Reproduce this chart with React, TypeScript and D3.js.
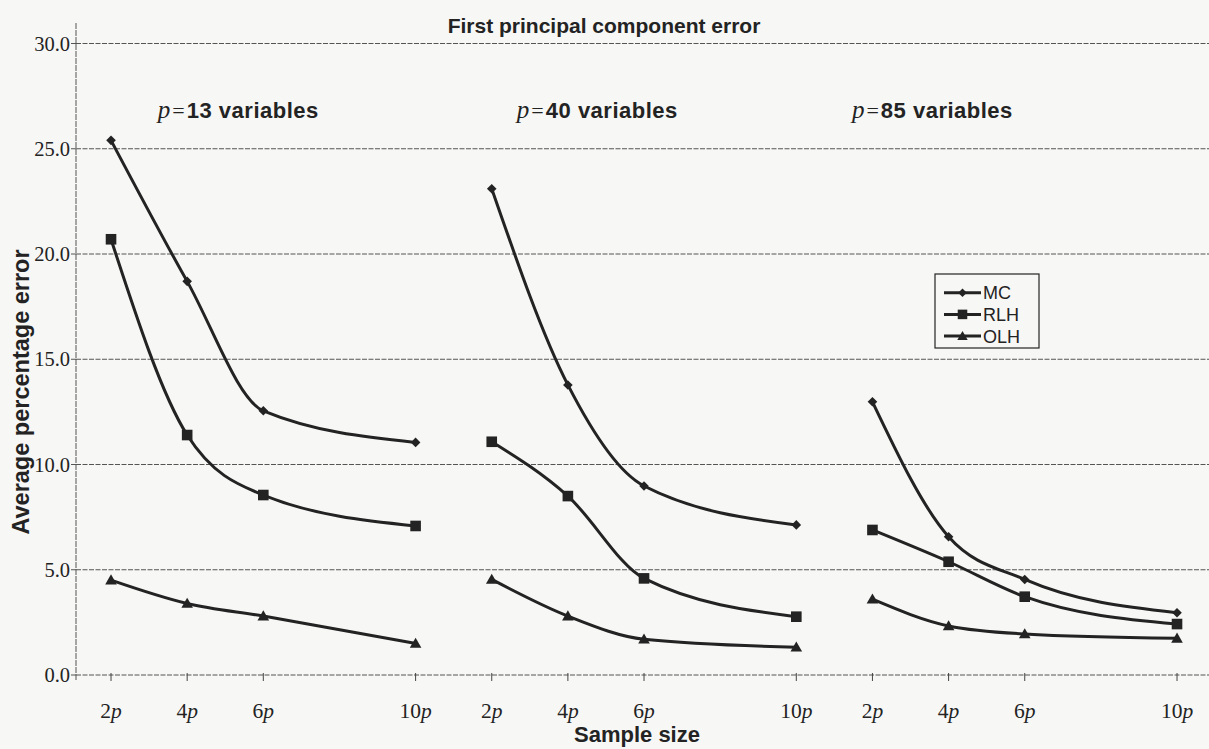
import React from "react";
import * as d3 from "d3";

// ---- data ----
const PANEL_P = ["13", "40", "85"];
const MULTIPLES = [2, 4, 6, 10];
const MULT_LABELS = ["2", "4", "6", "10"];
const MC = [
  [25.4, 18.7, 12.55, 11.05],
  [23.1, 13.78, 8.98, 7.13],
  [12.98, 6.57, 4.54, 2.96],
];
const RLH = [
  [20.7, 11.4, 8.55, 7.08],
  [11.08, 8.5, 4.59, 2.77],
  [6.89, 5.38, 3.72, 2.42],
];
const OLH = [
  [4.51, 3.4, 2.8, 1.5],
  [4.54, 2.8, 1.7, 1.32],
  [3.6, 2.33, 1.95, 1.74],
];
const Y_TICKS = [0, 5, 10, 15, 20, 25, 30];
const SERIES_NAMES = ["MC", "RLH", "OLH"];
// panel label anchors in data units (x in sample-size units, y in error units)
const PANEL_LABEL_X = [3.23, 12.66, 21.46];
const PANEL_LABEL_Y = 26.45;

const W = 1209;
const H = 749;
const INK = "#232323";
const BG = "#f7f7f5";
const SANS = "'Liberation Sans', Arial, Helvetica, sans-serif";
const SERIF = "'Liberation Serif', 'Times New Roman', serif";

const x = d3.scaleLinear().domain([1.08, 30.84]).range([76, 1209]);
const y = d3.scaleLinear().domain([0, 30]).range([675, 43.5]);

function Marker({ kind, cx, cy, s = 1 }: { kind: string; cx: number; cy: number; s?: number }) {
  if (kind === "MC") {
    const r = 4.8 * s;
    return <path d={`M${cx},${cy - r}L${cx + r},${cy}L${cx},${cy + r}L${cx - r},${cy}Z`} fill={INK} />;
  }
  if (kind === "RLH") {
    const h = 5.3 * s;
    return <rect x={cx - h} y={cy - h} width={2 * h} height={2 * h} fill={INK} />;
  }
  const h = 5.8 * s;
  return <path d={`M${cx},${cy - h}L${cx + h},${cy + h * 0.75}L${cx - h},${cy + h * 0.75}Z`} fill={INK} />;
}

export default function App() {
  const series = [MC, RLH, OLH];
  const line = d3
    .line<[number, number]>()
    .x((d) => x(d[0]))
    .y((d) => y(d[1]))
    .curve(d3.curveMonotoneX);

  const xPositions: { v: number; label: string }[] = [];
  PANEL_P.forEach((_, pi) =>
    MULTIPLES.forEach((m, mi) => xPositions.push({ v: pi * 10 + m, label: MULT_LABELS[mi] }))
  );

  return (
    <svg width={W} height={H} style={{ position: "absolute", left: 0, top: 0, background: BG }}>
      <rect x={0} y={0} width={W} height={H} fill={BG} />
      {/* title */}
      <text x={604} y={33} textAnchor="middle" fontFamily={SANS} fontWeight="bold" fontSize={21} fill={INK}>
        First principal component error
      </text>
      {/* grid lines */}
      {Y_TICKS.map((t) => (
        <g key={t}>
          <line x1={76} x2={W} y1={y(t)} y2={y(t)} stroke="#555" strokeWidth={1} strokeDasharray="5 1.5" />
          <line x1={71} x2={76} y1={y(t)} y2={y(t)} stroke="#555" strokeWidth={1} />
          <text x={70} y={y(t) + 7} textAnchor="end" fontFamily={SERIF} fontSize={20.5} fill={INK}>
            {t.toFixed(1)}
          </text>
        </g>
      ))}
      {/* y axis line */}
      <line x1={76} x2={76} y1={23} y2={680} stroke="#555" strokeWidth={1} strokeDasharray="6 1" />
      {/* y axis label */}
      <text
        transform={`translate(29,392) rotate(-90)`}
        textAnchor="middle"
        fontFamily={SANS}
        fontWeight="bold"
        fontSize={23.5}
        fill={INK}
      >
        Average percentage error
      </text>
      {/* x ticks and labels */}
      {xPositions.map((p, i) => (
        <g key={i}>
          <line x1={x(p.v)} x2={x(p.v)} y1={y(0) - 2} y2={y(0) + 6} stroke="#444" strokeWidth={1} />
          <text x={x(p.v)} y={718} textAnchor="middle" fontFamily={SERIF} fontSize={21.5} fill={INK}>
            {p.label}
            <tspan fontStyle="italic">p</tspan>
          </text>
        </g>
      ))}
      <text x={637} y={742} textAnchor="middle" fontFamily={SANS} fontWeight="bold" fontSize={22} fill={INK}>
        Sample size
      </text>
      {/* panel labels */}
      {PANEL_P.map((p, i) => (
        <text key={p} x={x(PANEL_LABEL_X[i])} y={y(PANEL_LABEL_Y)} fontSize={22} fill={INK}>
          <tspan fontFamily={SERIF} fontStyle="italic" fontSize={25}>p</tspan>
          <tspan fontFamily={SERIF} dx={2}>=</tspan>
          <tspan fontFamily={SANS} fontWeight="bold" dx={2} letterSpacing={0.5}>
            {p} variables
          </tspan>
        </text>
      ))}
      {/* series */}
      {PANEL_P.map((_, pi) =>
        series.map((s, si) => {
          const pts: [number, number][] = MULTIPLES.map((m, mi) => [pi * 10 + m, s[pi][mi]]);
          return (
            <g key={`${pi}-${si}`}>
              <path d={line(pts) || ""} fill="none" stroke={INK} strokeWidth={3} />
              {pts.map((d, k) => (
                <Marker key={k} kind={SERIES_NAMES[si]} cx={x(d[0])} cy={y(d[1])} />
              ))}
            </g>
          );
        })
      )}
      {/* legend */}
      <g>
        <rect x={935} y={274} width={104} height={74} fill={BG} stroke={INK} strokeWidth={1.2} />
        {SERIES_NAMES.map((n, i) => {
          const ly = 292.7 + i * 21.7;
          return (
            <g key={n}>
              <line x1={944} x2={981} y1={ly} y2={ly} stroke={INK} strokeWidth={3} />
              <Marker kind={n} cx={962.5} cy={ly} s={0.9} />
              <text x={983} y={ly + 6.5} fontFamily={SANS} fontSize={18} fill={INK}>
                {n}
              </text>
            </g>
          );
        })}
      </g>
    </svg>
  );
}
